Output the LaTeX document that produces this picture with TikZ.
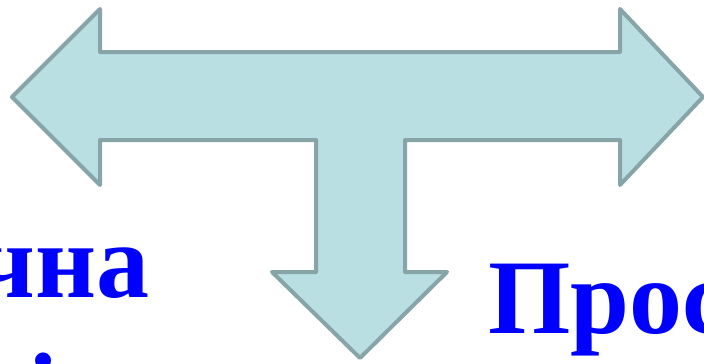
\documentclass[tikz,border=0pt]{standalone}
\usepackage{fontspec}
\setmainfont{Liberation Serif}
\definecolor{arrowfill}{HTML}{B9DFE3}
\definecolor{arrowline}{HTML}{87A4A6}
\definecolor{txtblue}{HTML}{0000FF}
\begin{document}
\begin{tikzpicture}[x=1pt,y=-1pt,
  arrowshape/.style={fill=arrowfill,draw=arrowline,line width=4pt,line join=round},
  bigtext/.style={inner sep=0pt,text=txtblue,font=\fontsize{106}{127}\selectfont\bfseries}]
\useasboundingbox (0,0) rectangle (704,364);
\clip (0,0) rectangle (704,364);
\draw[arrowshape] (12,97) -- (100,9) -- (100,52) -- (620,52) -- (620,9) -- (703,97)
  -- (620,185) -- (620,140) -- (405,140) -- (405,272) -- (447,272) -- (360,358)
  -- (272,272) -- (316,272) -- (316,140) -- (100,140) -- (100,185) -- cycle;
\node[bigtext,anchor=base east] (left) at (150,297) {чна};
\node[bigtext,anchor=base] (leftb) at (43,426) {і};
\node[bigtext,anchor=base west] (right) at (488,333) {Прос};
\end{tikzpicture}
\end{document}
